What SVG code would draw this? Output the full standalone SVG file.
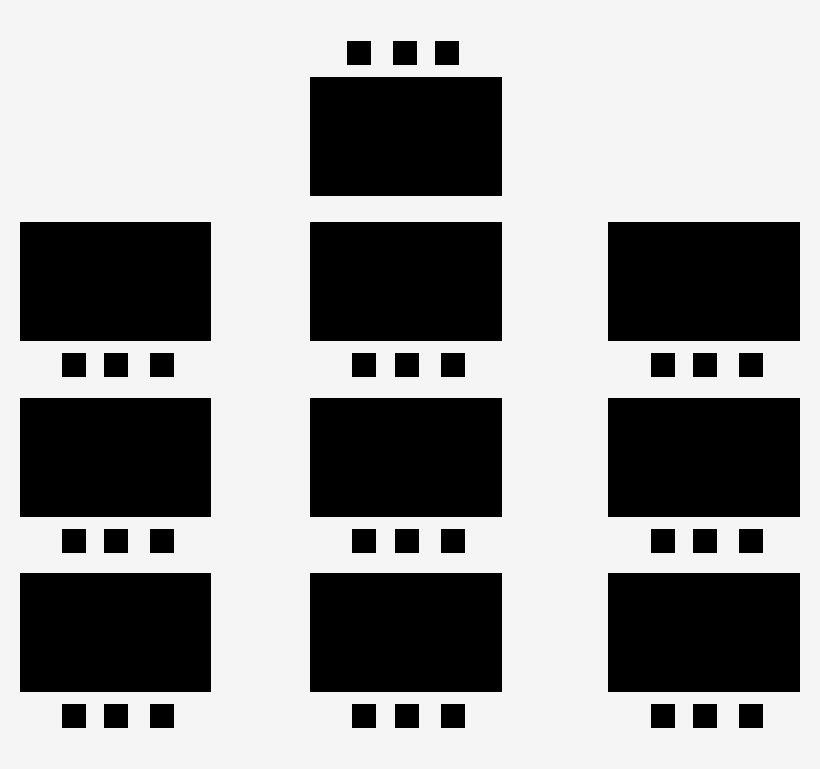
<svg xmlns="http://www.w3.org/2000/svg" width="820" height="769" viewBox="0 0 820 769">
<style>
.t{fill:#000}
.c{fill:#000}
</style>
<rect width="820" height="769" fill="#f5f5f5"/>
<g id="top">
<rect class="c" x="347" y="41" width="24" height="24"/>
<rect class="c" x="393" y="41" width="24" height="24"/>
<rect class="c" x="435" y="41" width="24" height="24"/>
<rect class="t" x="310" y="77" width="192" height="119"/>
</g>
<g id="left1"><rect class="t" x="20" y="222" width="191" height="119"/><rect class="c" x="62" y="353" width="24" height="24"/><rect class="c" x="104" y="353" width="24" height="24"/><rect class="c" x="150" y="353" width="24" height="24"/></g>
<g id="left2"><rect class="t" x="20" y="398" width="191" height="119"/><rect class="c" x="62" y="529" width="24" height="24"/><rect class="c" x="104" y="529" width="24" height="24"/><rect class="c" x="150" y="529" width="24" height="24"/></g>
<g id="left3"><rect class="t" x="20" y="573" width="191" height="119"/><rect class="c" x="62" y="704" width="24" height="24"/><rect class="c" x="104" y="704" width="24" height="24"/><rect class="c" x="150" y="704" width="24" height="24"/></g>
<g id="mid1"><rect class="t" x="310" y="222" width="192" height="119"/><rect class="c" x="352" y="353" width="24" height="24"/><rect class="c" x="395" y="353" width="24" height="24"/><rect class="c" x="441" y="353" width="24" height="24"/></g>
<g id="mid2"><rect class="t" x="310" y="398" width="192" height="119"/><rect class="c" x="352" y="529" width="24" height="24"/><rect class="c" x="395" y="529" width="24" height="24"/><rect class="c" x="441" y="529" width="24" height="24"/></g>
<g id="mid3"><rect class="t" x="310" y="573" width="192" height="119"/><rect class="c" x="352" y="704" width="24" height="24"/><rect class="c" x="395" y="704" width="24" height="24"/><rect class="c" x="441" y="704" width="24" height="24"/></g>
<g id="right1"><rect class="t" x="608" y="222" width="192" height="119"/><rect class="c" x="651" y="353" width="24" height="24"/><rect class="c" x="693" y="353" width="24" height="24"/><rect class="c" x="739" y="353" width="24" height="24"/></g>
<g id="right2"><rect class="t" x="608" y="398" width="192" height="119"/><rect class="c" x="651" y="529" width="24" height="24"/><rect class="c" x="693" y="529" width="24" height="24"/><rect class="c" x="739" y="529" width="24" height="24"/></g>
<g id="right3"><rect class="t" x="608" y="573" width="192" height="119"/><rect class="c" x="651" y="704" width="24" height="24"/><rect class="c" x="693" y="704" width="24" height="24"/><rect class="c" x="739" y="704" width="24" height="24"/></g>
<g id="connectors"/>
</svg>
